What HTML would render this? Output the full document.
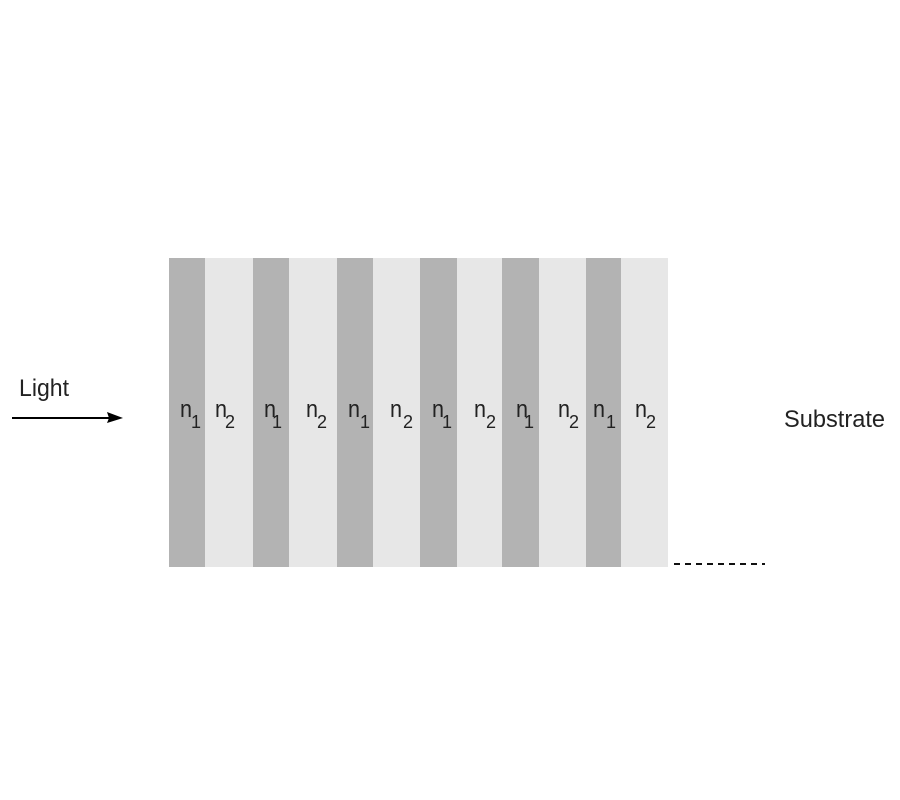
<!DOCTYPE html>
<html>
<head>
<meta charset="utf-8">
<style>
html,body{margin:0;padding:0;background:#fff}
svg{display:block}
text{font-family:"Liberation Sans",sans-serif;fill:#222}
.n{font-size:24px}
.s{font-size:18px}
</style>
</head>
<body>
<svg width="900" height="800" viewBox="0 0 900 800" xmlns="http://www.w3.org/2000/svg">
<rect x="0" y="0" width="900" height="800" fill="#fff"/>
<rect x="169" y="258" width="499" height="309" fill="#e7e7e7"/>
<g fill="#b3b3b3">
<rect x="169" y="258" width="36" height="309"/>
<rect x="253" y="258" width="36" height="309"/>
<rect x="337" y="258" width="36" height="309"/>
<rect x="420" y="258" width="37" height="309"/>
<rect x="502" y="258" width="37" height="309"/>
<rect x="586" y="258" width="35" height="309"/>
</g>
<text class="n" x="180" y="417" textLength="12" lengthAdjust="spacingAndGlyphs">n</text><text class="s" x="191" y="428">1</text>
<text class="n" x="215" y="417" textLength="12" lengthAdjust="spacingAndGlyphs">n</text><text class="s" x="225" y="428">2</text>
<text class="n" x="264" y="417" textLength="12" lengthAdjust="spacingAndGlyphs">n</text><text class="s" x="272" y="428">1</text>
<text class="n" x="306" y="417" textLength="12" lengthAdjust="spacingAndGlyphs">n</text><text class="s" x="317" y="428">2</text>
<text class="n" x="348" y="417" textLength="12" lengthAdjust="spacingAndGlyphs">n</text><text class="s" x="360" y="428">1</text>
<text class="n" x="390" y="417" textLength="12" lengthAdjust="spacingAndGlyphs">n</text><text class="s" x="403" y="428">2</text>
<text class="n" x="432" y="417" textLength="12" lengthAdjust="spacingAndGlyphs">n</text><text class="s" x="442" y="428">1</text>
<text class="n" x="474" y="417" textLength="12" lengthAdjust="spacingAndGlyphs">n</text><text class="s" x="486" y="428">2</text>
<text class="n" x="516" y="417" textLength="12" lengthAdjust="spacingAndGlyphs">n</text><text class="s" x="524" y="428">1</text>
<text class="n" x="558" y="417" textLength="12" lengthAdjust="spacingAndGlyphs">n</text><text class="s" x="569" y="428">2</text>
<text class="n" x="593" y="417" textLength="12" lengthAdjust="spacingAndGlyphs">n</text><text class="s" x="606" y="428">1</text>
<text class="n" x="635" y="417" textLength="12" lengthAdjust="spacingAndGlyphs">n</text><text class="s" x="646" y="428">2</text>
<text x="19" y="396" style="font-size:24px" textLength="50" lengthAdjust="spacingAndGlyphs">Light</text>
<text x="784" y="427" style="font-size:24px" textLength="101" lengthAdjust="spacingAndGlyphs">Substrate</text>
<line x1="12" y1="418" x2="112" y2="418" stroke="#000" stroke-width="2"/>
<polygon points="107,412 123,418 107,423 109,418" fill="#000"/>
<line x1="674" y1="564" x2="765" y2="564" stroke="#111" stroke-width="2" stroke-dasharray="6,5"/>
</svg>
</body>
</html>
